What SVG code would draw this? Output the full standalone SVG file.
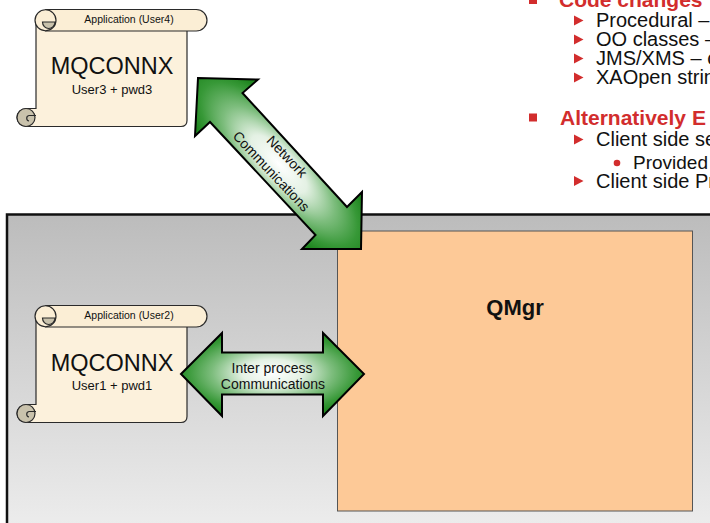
<svg xmlns="http://www.w3.org/2000/svg" width="710" height="523" viewBox="0 0 710 523">
  <style>
    text { font-family: "Liberation Sans", Arial, sans-serif; fill: #111; }
    .scroll-body { fill: #fcf1dc; stroke: #2a2a2a; stroke-width: 1.2; }
    .scroll-bar { fill: #fbeed5; stroke: #2a2a2a; stroke-width: 1.2; }
    .curl { fill: #fbeed5; stroke: #2a2a2a; stroke-width: 1.2; }
    .curl-in { fill: #c9c2ac; stroke: #2a2a2a; stroke-width: 1.2; }
    .app { font-size: 10.5px; text-anchor: middle; }
    .call { font-size: 23.5px; text-anchor: middle; }
    .cred { font-size: 13px; text-anchor: middle; }
    .arrow { stroke: #000; stroke-width: 2; stroke-linejoin: miter; }
    .alabel { font-size: 14px; text-anchor: middle; }
    .red { fill: #d22d2d; }
    .h1 { font-size: 21px; font-weight: bold; fill: #d22d2d; }
    .h2 { font-size: 20px; }
    .h3 { font-size: 19px; }
  </style>
  <defs>
    <linearGradient id="greyFill" x1="0" y1="0" x2="0" y2="1">
      <stop offset="0" stop-color="#bcbcbc"/>
      <stop offset="1" stop-color="#efefef"/>
    </linearGradient>
    <radialGradient id="greenH" gradientUnits="userSpaceOnUse" cx="0" cy="0" r="1"
                    gradientTransform="translate(272,373) scale(100,46)">
      <stop offset="0" stop-color="#ffffff"/>
      <stop offset="0.3" stop-color="#e4f1e4"/>
      <stop offset="0.6" stop-color="#7dbd7d"/>
      <stop offset="0.85" stop-color="#379837"/>
      <stop offset="1" stop-color="#1f861f"/>
    </radialGradient>
    <radialGradient id="greenD" gradientUnits="userSpaceOnUse" cx="0" cy="0" r="1"
                    gradientTransform="translate(279,164) rotate(46.5) scale(125,46)">
      <stop offset="0" stop-color="#ffffff"/>
      <stop offset="0.3" stop-color="#e4f1e4"/>
      <stop offset="0.6" stop-color="#7dbd7d"/>
      <stop offset="0.85" stop-color="#379837"/>
      <stop offset="1" stop-color="#1f861f"/>
    </radialGradient>
    <!-- parchment scroll outline shared by both applications -->
    <g id="scroll">
      <path class="scroll-body" d="M36,22 V108.5 H26 A9,9 0 0 0 26,126.5 H181 Q187,126.5 187,120.5 V30 Z"/>
      <circle class="curl-in" cx="26" cy="117.5" r="9"/>
      <path fill="none" stroke="#2a2a2a" stroke-width="1.2" d="M36,115.5 H29 A2.8,2.8 0 0 0 29,121"/>
      <path class="scroll-bar" d="M45.5,9.5 H196.25 A10.75,10.75 0 0 1 196.25,31 H45.5 Z"/>
      <circle class="curl" cx="45.5" cy="20.25" r="10.5"/>
      <path class="curl-in" d="M42.5,22 H55 A6.25,6.5 0 0 1 42.5,22 Z"/>
    </g>
  </defs>

  <!-- host machine boundary -->
  <rect id="host" x="7" y="214.5" width="720" height="330" fill="url(#greyFill)" stroke="#111" stroke-width="2.5"/>

  <!-- queue manager -->
  <g id="qmgr">
    <rect x="337.5" y="231" width="355" height="280" fill="#fdc997" stroke="#555" stroke-width="1"/>
    <text x="515" y="315" font-size="22" font-weight="bold" text-anchor="middle">QMgr</text>
  </g>

  <!-- remote client application -->
  <g id="app-user4">
    <use href="#scroll"/>
    <text class="app" x="129" y="22.5">Application (User4)</text>
    <text class="call" x="112" y="74">MQCONNX</text>
    <text class="cred" x="112" y="93.5">User3 + pwd3</text>
  </g>

  <!-- local bindings application -->
  <g id="app-user2">
    <use href="#scroll" transform="translate(0,296)"/>
    <text class="app" x="129" y="318.5">Application (User2)</text>
    <text class="call" x="112" y="371">MQCONNX</text>
    <text class="cred" x="112" y="390">User1 + pwd1</text>
  </g>

  <!-- communication arrows -->
  <g id="connectors">
    <g id="network-link">
      <polygon class="arrow" fill="url(#greenD)"
               points="198,78 258,79.5 242.5,93 347,207 362,192 361,249 302,249 315.5,235 210,122 195,136"/>
      <g transform="translate(279,164) rotate(46.5)">
        <text class="alabel" x="0" y="-6">Network</text>
        <text class="alabel" x="0" y="15.5">Communications</text>
      </g>
    </g>
    <g id="ipc-link">
      <polygon class="arrow" fill="url(#greenH)"
               points="181,374 222,333 222,352.5 323,352.5 323,333 364,374 323,416 323,394.5 222,394.5 222,416"/>
      <text class="alabel" x="272" y="373">Inter process</text>
      <text class="alabel" x="273" y="389">Communications</text>
    </g>
  </g>

  <!-- notes column -->
  <g id="notes">
    <rect class="red" x="529" y="-4" width="8" height="8"/>
    <text class="h1" x="559" y="7">Code changes</text>
    <polygon class="red" points="574,15.5 583.5,20.5 574,25.5"/>
    <text class="h2" x="596" y="27">Procedural –</text>
    <polygon class="red" points="574,34.5 583.5,39.5 574,44.5"/>
    <text class="h2" x="596" y="46">OO classes –</text>
    <polygon class="red" points="574,53.5 583.5,58.5 574,63.5"/>
    <text class="h2" x="596" y="65">JMS/XMS – c</text>
    <polygon class="red" points="574,72.5 583.5,77.5 574,82.5"/>
    <text class="h2" x="596" y="84">XAOpen strin</text>

    <rect class="red" x="529" y="113.5" width="8" height="8"/>
    <text class="h1" x="560" y="125">Alternatively E</text>
    <polygon class="red" points="574,134.5 583.5,139.5 574,144.5"/>
    <text class="h2" x="596" y="145.5">Client side se</text>
    <circle class="red" cx="617" cy="163" r="3.3"/>
    <text class="h3" x="633" y="168.5">Provided</text>
    <polygon class="red" points="574,176 583.5,181 574,186"/>
    <text class="h2" x="596" y="187.5">Client side Pr</text>
  </g>
</svg>
